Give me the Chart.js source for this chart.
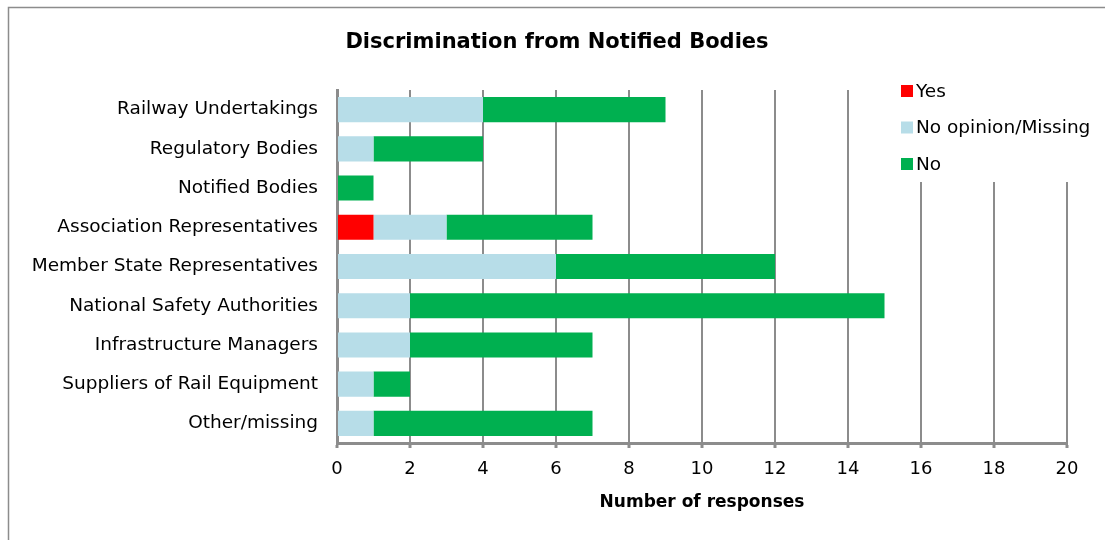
<!DOCTYPE html>
<html>
<head>
<meta charset="utf-8">
<script src="https://cdn.jsdelivr.net/npm/chart.js@4.4.0/dist/chart.umd.min.js"></script>
<style>
  body { margin: 0; background: #fff; }
  #wrap { width: 1105px; height: 540px; }
</style>
</head>
<body>
<div id="wrap"><canvas id="barChart" width="1105" height="540"></canvas></div>
<script>
const chartTitle = 'Discrimination from Notified Bodies'
const categories = [
  'Railway Undertakings',
  'Regulatory Bodies',
  'Notified Bodies',
  'Association Representatives',
  'Member State Representatives',
  'National Safety Authorities',
  'Infrastructure Managers',
  'Suppliers of Rail Equipment',
  'Other/missing'
]
const yesVals = [0, 0, 0, 1, 0, 0, 0, 0, 0]
const noOpinionVals = [4, 1, 0, 2, 6, 2, 2, 1, 1]
const noVals = [5, 3, 1, 4, 6, 13, 5, 1, 6]
const xMax = 20
const xStep = 2

const FONT = "'DejaVu Sans', sans-serif"
const gridGray = '#8c8c8c'

// title, white box legend over the top-right grid lines, and the outer frame
const extras = {
  id: 'extras',
  afterDraw(chart) {
    const ctx = chart.ctx
    ctx.save()
    ctx.fillStyle = '#000'
    ctx.font = 'bold 21px ' + FONT
    ctx.textAlign = 'center'
    ctx.textBaseline = 'middle'
    ctx.fillText(chartTitle, 557, 43)

    ctx.fillStyle = '#fff'
    ctx.fillRect(893, 72, 212, 110)
    chart.data.datasets.forEach((ds, i) => {
      const y = 91 + i * 36.5
      ctx.fillStyle = ds.backgroundColor
      ctx.fillRect(901, y - 6, 12, 12)
      ctx.fillStyle = '#000'
      ctx.font = '18.5px ' + FONT
      ctx.textAlign = 'left'
      ctx.fillText(ds.label, 916, y + 1)
    })

    ctx.strokeStyle = '#8c8c8c'
    ctx.lineWidth = 1.5
    ctx.beginPath()
    ctx.moveTo(8.5, 540)
    ctx.lineTo(8.5, 7.5)
    ctx.lineTo(1105, 7.5)
    ctx.stroke()
    ctx.restore()
  }
}

const barChartCanvas = document.getElementById('barChart')
const barChart = new Chart(barChartCanvas, {
  type: 'bar',
  data: {
    labels: categories,
    datasets: [
      { label: 'Yes', data: yesVals, backgroundColor: '#ff0000' },
      { label: 'No opinion/Missing', data: noOpinionVals, backgroundColor: '#b7dde8' },
      { label: 'No', data: noVals, backgroundColor: '#00b050' }
    ]
  },
  options: {
    indexAxis: 'y',
    responsive: false,
    animation: false,
    categoryPercentage: 1,
    barPercentage: 0.64,
    layout: { padding: { top: 90, right: 38, left: 10, bottom: 0 } },
    plugins: {
      legend: { display: false },
      tooltip: { enabled: false },
      title: { display: false }
    },
    scales: {
      x: {
        stacked: true,
        min: 0,
        max: xMax,
        ticks: { stepSize: xStep, color: '#000', font: { family: FONT, size: 18 }, padding: 11, maxRotation: 0 },
        grid: { color: gridGray, lineWidth: 2, tickLength: 5, tickWidth: 3, tickColor: gridGray },
        border: { color: gridGray, width: 3 },
        title: {
          display: true,
          text: 'Number of responses',
          color: '#000',
          font: { family: FONT, size: 17, weight: 'bold', lineHeight: 1.2 },
          padding: { top: 0, bottom: 27 }
        },
        afterFit(scale) { scale.height = 97 }
      },
      y: {
        stacked: true,
        ticks: { color: '#000', font: { family: FONT, size: 18.5 }, padding: 19 },
        grid: { display: true, color: 'transparent', drawTicks: false },
        border: { color: gridGray, width: 3 },
        afterFit(scale) { scale.width = 327 }
      }
    }
  },
  plugins: [extras]
})
</script>
</body>
</html>
